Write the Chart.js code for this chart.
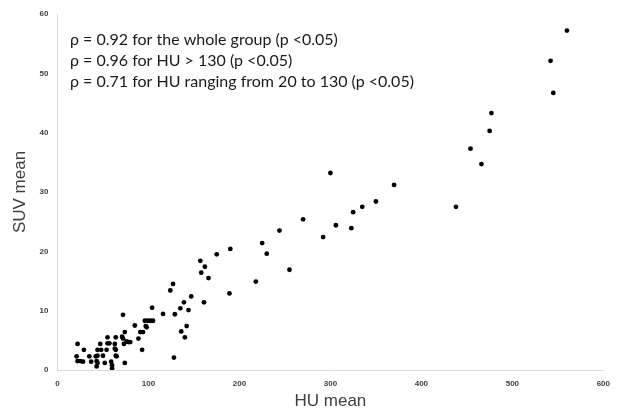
<!DOCTYPE html>
<html>
<head>
<meta charset="utf-8">
<script src="https://cdn.jsdelivr.net/npm/chart.js@4"></script>
<style>
  html, body { margin: 0; padding: 0; background: #fff; }
  #wrap { width: 619px; height: 412px; }
</style>
</head>
<body>
<div id="wrap"><canvas id="scatterChart" width="619" height="412"></canvas></div>
<script>
// values
const huMean = [
  560, 542, 545, 477, 475, 454, 466, 438, 300, 370,
  350, 335, 325, 323, 306, 292, 270, 244, 225, 230,
  255, 218, 190, 175, 189, 157, 162, 158, 166, 161,
  127, 124, 147, 139, 135, 144, 129, 116, 104, 142,
  136, 140, 128,
  72, 85, 96, 99, 102, 105, 97, 98, 91, 94,
  89, 93, 74, 71, 72, 76, 78, 80, 73, 74,
  64, 55, 55, 57, 63, 64, 63, 64, 65, 54,
  48, 44, 47, 50, 42, 44, 35, 43, 44, 43,
  52, 59, 60, 60, 37, 29, 22, 21, 22, 25, 28
];
const suvMean = [
  57.2, 52.1, 46.7, 43.3, 40.3, 37.3, 34.7, 27.5, 33.2, 31.2,
  28.4, 27.5, 26.6, 23.9, 24.4, 22.4, 25.4, 23.5, 21.4, 19.6,
  16.9, 14.9, 20.4, 19.5, 12.9, 18.4, 17.4, 16.4, 15.5, 11.4,
  14.5, 13.4, 12.4, 11.4, 10.4, 10.1, 9.4, 9.45, 10.5, 7.4,
  6.5, 5.5, 2.1,
  9.3, 7.5, 8.3, 8.3, 8.3, 8.3, 7.4, 7.2, 6.4, 6.4,
  5.3, 3.4, 6.4, 5.6, 5.3, 4.8, 4.7, 4.7, 4.4, 1.2,
  5.5, 5.5, 4.5, 4.5, 4.4, 3.4, 3.6, 2.4, 2.3, 3.4,
  3.4, 3.4, 4.4, 2.4, 2.3, 2.4, 2.3, 1.5, 1.2, 0.6,
  1.2, 1.4, 0.8, 0.3, 1.4, 3.4, 4.4, 2.3, 1.5, 1.5, 1.4
];
const xTicks = [0, 100, 200, 300, 400, 500, 600];
const yTicks = [0, 10, 20, 30, 40, 50, 60];
const noteLines = [
  "\u03c1 = 0.92 for the whole group (p <0.05)",
  "\u03c1 = 0.96 for HU > 130 (p <0.05)",
  "\u03c1 = 0.71 for HU ranging from 20 to 130 (p <0.05)"
];

const points = huMean.map((x, i) => ({ x: x, y: suvMean[i] }));

// correlation notes in the upper left of the plot
const notesPlugin = {
  id: "notes",
  afterDraw(chart) {
    const ctx = chart.ctx;
    const area = chart.chartArea;
    ctx.save();
    ctx.font = "16px Lato, 'Open Sans', sans-serif";
    ctx.fillStyle = "#1a1a1a";
    ctx.textBaseline = "middle";
    noteLines.forEach((t, i) => {
      ctx.fillText(t, area.left + 12.5, area.top + 25.5 + i * 21.3);
    });
    ctx.restore();
  }
};

const tickFont = { family: "'Liberation Sans', Arial, sans-serif", size: 8, weight: "bold" };
const titleFont = { family: "'Liberation Sans', Arial, sans-serif", size: 17 };

new Chart(document.getElementById("scatterChart"), {
  type: "scatter",
  data: {
    datasets: [{
      data: points,
      backgroundColor: "#000",
      borderColor: "#000",
      pointRadius: 2.4,
      pointHoverRadius: 2.4,
      borderWidth: 0
    }]
  },
  options: {
    responsive: false,
    animation: false,
    layout: { padding: { left: 0, right: 12.5, top: 14, bottom: 0 } },
    plugins: {
      legend: { display: false },
      tooltip: { enabled: false }
    },
    scales: {
      x: {
        type: "linear",
        min: 0,
        max: 600,
        afterBuildTicks: s => { s.ticks = xTicks.map(v => ({ value: v })); },
        afterFit: s => { s.height = 42; },
        grid: { display: false, drawTicks: false },
        border: { display: true, color: "#d9d9d9", width: 1 },
        ticks: { color: "#404040", font: tickFont, padding: 9, maxRotation: 0 },
        title: { display: true, text: "HU mean", color: "#404040", font: titleFont, padding: { top: 0, bottom: 0 } }
      },
      y: {
        type: "linear",
        min: 0,
        max: 60,
        afterBuildTicks: s => { s.ticks = yTicks.map(v => ({ value: v })); },
        afterFit: s => { s.width = 57.5; },
        grid: { display: false, drawTicks: false },
        border: { display: true, color: "#d9d9d9", width: 1 },
        ticks: { color: "#404040", font: tickFont, padding: 9 },
        title: { display: true, text: "SUV mean", color: "#404040", font: titleFont, padding: { top: 10, bottom: 0 } }
      }
    }
  },
  plugins: [notesPlugin]
});
</script>
</body>
</html>
